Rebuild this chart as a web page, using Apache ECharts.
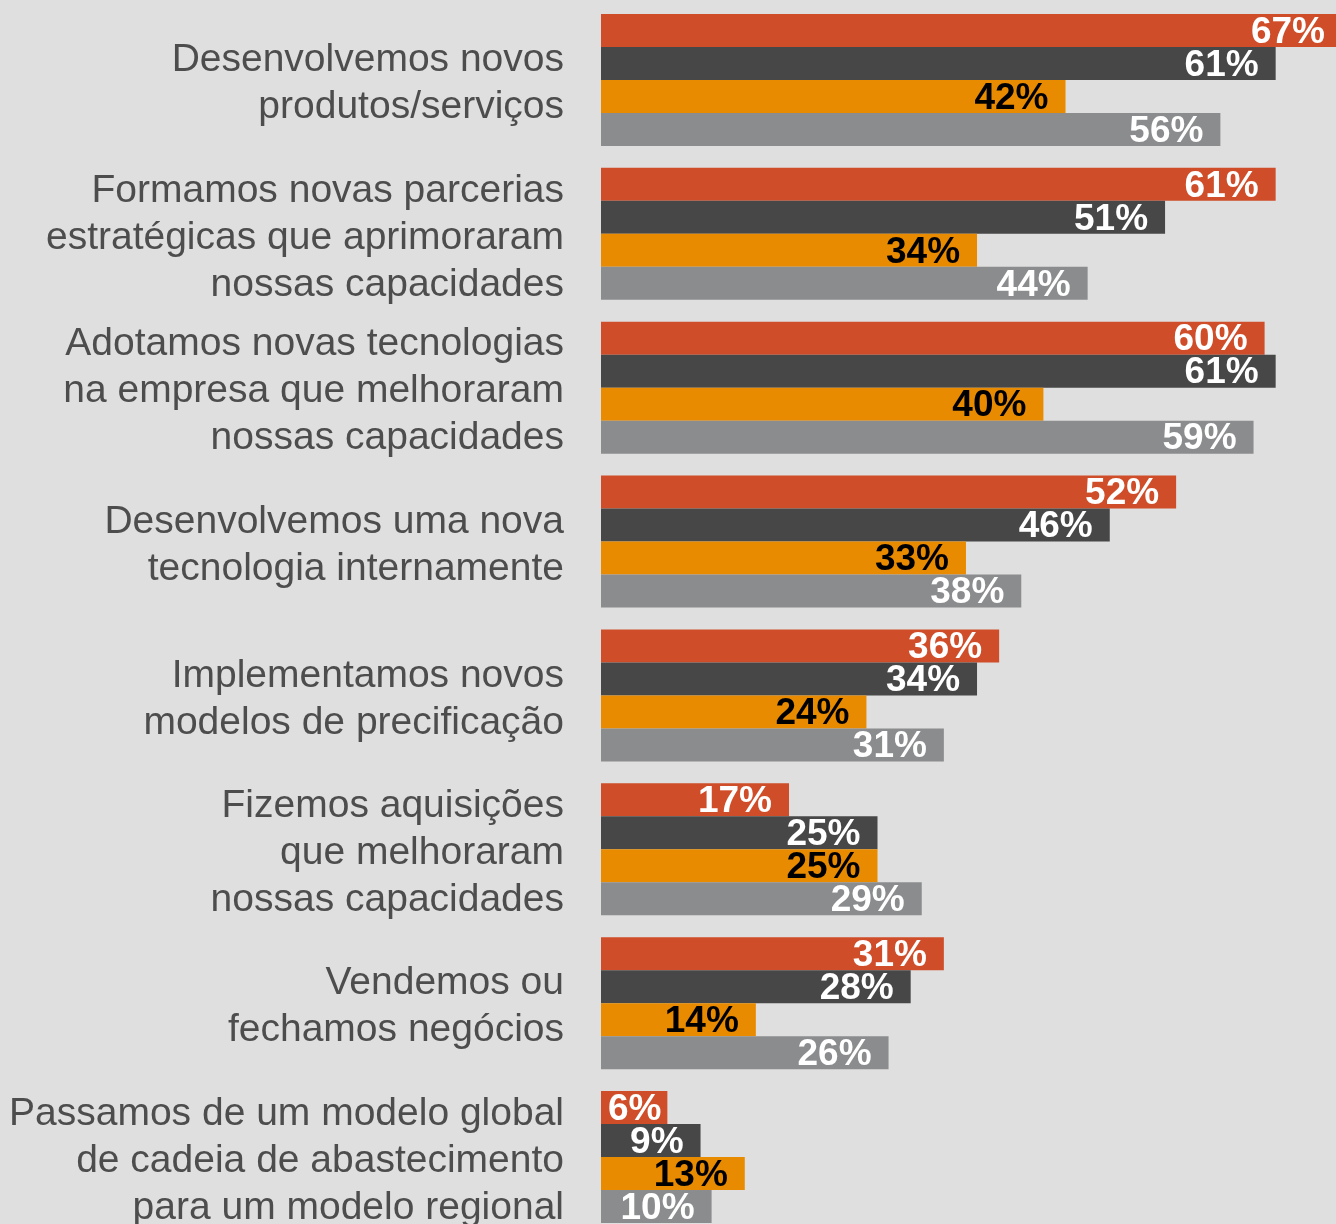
<!DOCTYPE html>
<html>
<head>
<meta charset="utf-8">
<script src="https://cdn.jsdelivr.net/npm/echarts@6/dist/echarts.min.js"></script>
<style>
html,body{margin:0;padding:0;background:#dfdfdf;overflow:hidden;width:1336px;height:1224px;}
#c{width:1760px;height:1260px;}
</style>
</head>
<body>
<div id="c"></div>
<script>
const categories = [
  "Desenvolvemos novos\nprodutos/serviços",
  "Formamos novas parcerias\nestratégicas que aprimoraram\nnossas capacidades",
  "Adotamos novas tecnologias\nna empresa que melhoraram\nnossas capacidades",
  "Desenvolvemos uma nova\ntecnologia internamente",
  "Implementamos novos\nmodelos de precificação",
  "Fizemos aquisições\nque melhoraram\nnossas capacidades",
  "Vendemos ou\nfechamos negócios",
  "Passamos de um modelo global\nde cadeia de abastecimento\npara um modelo regional"
];
const seriesNames = ["Série 1", "Série 2", "Série 3", "Série 4"];
const serie1 = [67, 61, 60, 52, 36, 17, 31, 6];
const serie2 = [61, 51, 61, 46, 34, 25, 28, 9];
const serie3 = [42, 34, 40, 33, 24, 25, 14, 13];
const serie4 = [56, 44, 59, 38, 31, 29, 26, 10];

const colors = ["#cf4d29", "#474747", "#e98b00", "#8b8c8e"];
const labelColors = ["#ffffff", "#ffffff", "#000000", "#ffffff"];
const allSeries = [serie1, serie2, serie3, serie4];

const chart = echarts.init(document.getElementById('c'));
chart.setOption({
  backgroundColor: '#dfdfdf',
  animation: false,
  grid: { left: 601, top: 3, width: 1106, height: 1231 },
  xAxis: {
    type: 'value', min: 0, max: 100,
    show: false
  },
  yAxis: {
    type: 'category',
    data: categories,
    inverse: true,
    axisLine: { show: false },
    axisTick: { show: false },
    axisLabel: {
      fontFamily: 'Liberation Sans',
      fontSize: 39,
      lineHeight: 47,
      color: '#4d4d4d',
      margin: 37,
      align: 'right',
      formatter: (v) => '{s|}\n' + v.split('\n').map(l => '{t|' + l + '}').join('\n'),
      rich: {
        s: { lineHeight: 8, fontSize: 4 },
        t: { fontFamily: 'Liberation Sans', fontSize: 39, lineHeight: 47, color: '#4d4d4d', align: 'right' }
      }
    }
  },
  series: allSeries.map((vals, si) => ({
    name: seriesNames[si],
    type: 'bar',
    barGap: '0%',
    barCategoryGap: '14.2%',
    itemStyle: { color: colors[si] },
    data: vals.map((v) => ({
      value: v,
      label: { distance: v < 8 ? 6 : 17 }
    })),
    label: {
      show: true,
      position: 'insideRight',
      formatter: '{c}%',
      color: labelColors[si],
      fontFamily: 'Liberation Sans',
      fontSize: 37,
      fontWeight: 'bold',
      offset: [0, 2]
    }
  }))
});
</script>
</body>
</html>
